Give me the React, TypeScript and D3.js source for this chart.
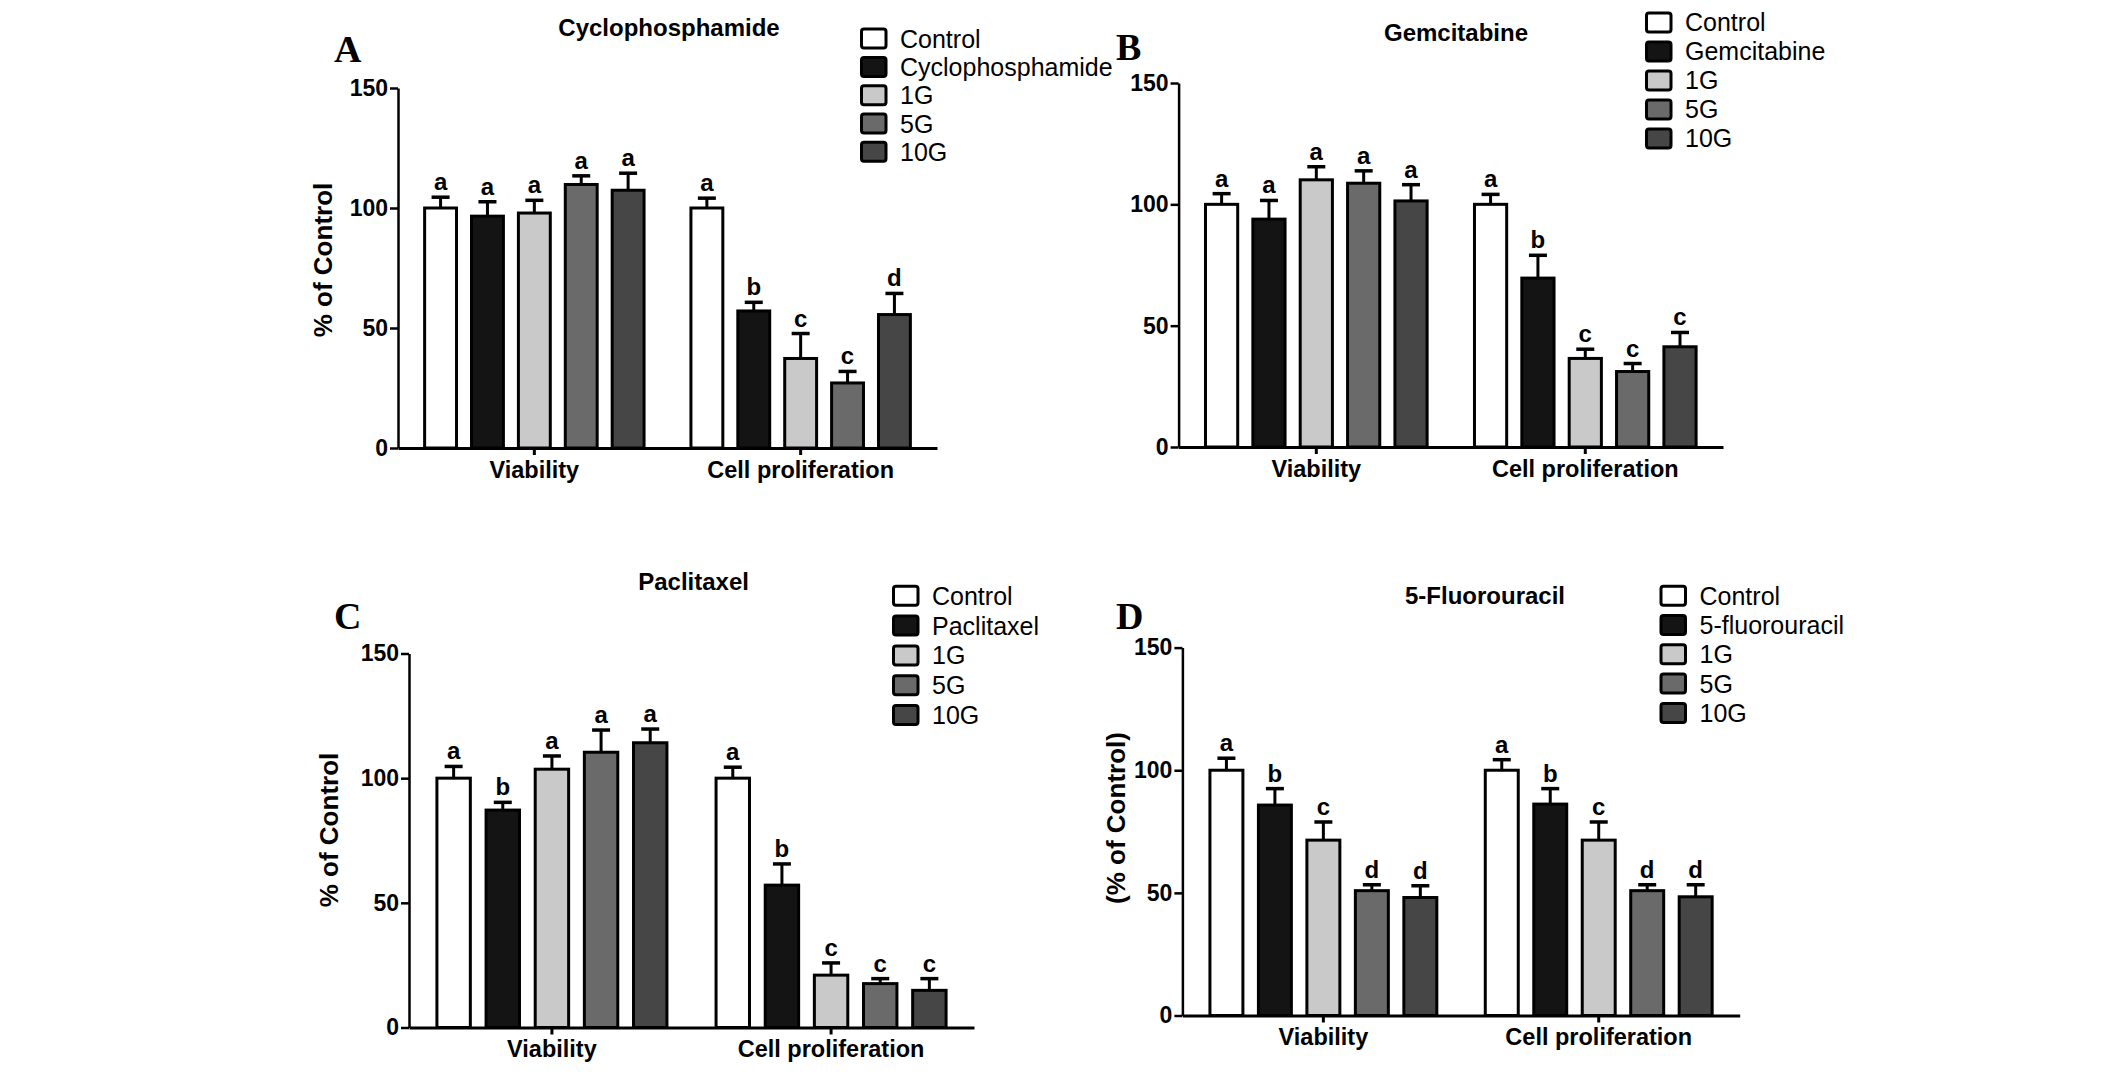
import React, { useEffect, useRef } from "react";
import * as d3 from "d3";

// categories and series
const groups = ["Viability", "Cell proliferation"];
const doseLabels = ["1G", "5G", "10G"];
const yTicks = [0, 50, 100, 150];
const fills = ["#ffffff", "#141414", "#c9c9c9", "#6a6a6a", "#464646"];

// A - Cyclophosphamide
const cycloMeans = [[100, 96.6, 97.9, 109.8, 107.4], [100, 57.1, 37.3, 27.1, 55.6]];
const cycloErrors = [[4.5, 6, 5.3, 3.6, 7.1], [4.1, 3.6, 10.4, 4.8, 8.8]];
const cycloSig = [["a", "a", "a", "a", "a"], ["a", "b", "c", "c", "d"]];

// B - Gemcitabine
const gemMeans = [[100, 93.9, 110.1, 108.7, 101.4], [100, 69.6, 36.5, 31.1, 41.3]];
const gemErrors = [[4.4, 7.7, 5.4, 5.1, 6.7], [4.1, 9.4, 3.8, 3.3, 5.9]];
const gemSig = [["a", "a", "a", "a", "a"], ["a", "b", "c", "c", "c"]];

// C - Paclitaxel
const paclMeans = [[100, 87.2, 103.6, 110.4, 114.2], [100, 57.1, 21, 17.6, 14.9]];
const paclErrors = [[4.7, 3.1, 5.3, 8.9, 5.5], [4.4, 8.5, 4.9, 2, 4.7]];
const paclSig = [["a", "b", "a", "a", "a"], ["a", "b", "c", "c", "c"]];

// D - 5-Fluorouracil
const fuMeans = [[100, 85.8, 71.5, 50.9, 48.1], [100, 86.2, 71.5, 50.9, 48.4]];
const fuErrors = [[4.9, 6.7, 7.4, 2.4, 4.8], [4.3, 6.3, 7.4, 2.4, 4.9]];
const fuSig = [["a", "b", "c", "d", "d"], ["a", "b", "c", "d", "d"]];

const SANS = "'Liberation Sans', Arial, sans-serif";
const SERIF = "'Liberation Serif', 'Times New Roman', serif";

const panels = [
  {
    letter: "A", title: "Cyclophosphamide", drug: "Cyclophosphamide", yLabel: "% of Control",
    means: cycloMeans, errors: cycloErrors, sig: cycloSig,
    layout: { x0: 398, x1: 937, y0: 448, y1: 88, tx: 669, ty: 36, lx: 334, ly: 62,
      legX: 860, legY: 38.6, legStep: 28.3, labX: 323, labY: 260 },
  },
  {
    letter: "B", title: "Gemcitabine", drug: "Gemcitabine", yLabel: "",
    means: gemMeans, errors: gemErrors, sig: gemSig,
    layout: { x0: 1178.6, x1: 1723, y0: 447, y1: 83, tx: 1456, ty: 41, lx: 1116, ly: 60,
      legX: 1645, legY: 22.4, legStep: 29, labX: 0, labY: 0 },
  },
  {
    letter: "C", title: "Paclitaxel", drug: "Paclitaxel", yLabel: "% of Control",
    means: paclMeans, errors: paclErrors, sig: paclSig,
    layout: { x0: 409, x1: 974, y0: 1027.5, y1: 653.5, tx: 693.6, ty: 590, lx: 334, ly: 629,
      legX: 892, legY: 595.8, legStep: 29.8, labX: 329, labY: 830 },
  },
  {
    letter: "D", title: "5-Fluorouracil", drug: "5-fluorouracil", yLabel: "(% of Control)",
    means: fuMeans, errors: fuErrors, sig: fuSig,
    layout: { x0: 1182.4, x1: 1739.7, y0: 1015.5, y1: 647.6, tx: 1485, ty: 603.5, lx: 1116, ly: 629,
      legX: 1659.5, legY: 595.7, legStep: 29.3, labX: 1116, labY: 818 },
  },
];

function Panel({ cfg }) {
  const gRef = useRef(null);

  useEffect(() => {
    const L = cfg.layout;
    const g = d3.select(gRef.current);
    const series = ["Control", cfg.drug, ...doseLabels];

    // scales
    const x = d3.scaleBand().domain(groups).range([L.x0, L.x1])
      .paddingInner(0.176).paddingOuter(0.1);
    const xs = d3.scaleBand().domain(d3.range(series.length)).range([0, x.bandwidth()])
      .paddingInner(0.32).paddingOuter(0);
    const y = d3.scaleLinear().domain([0, 150]).range([L.y0, L.y1]);

    // bars
    groups.forEach((grp, gi) => {
      const gg = g.append("g").attr("transform", `translate(${x(grp)},0)`);
      const rows = cfg.means[gi].map((v, i) => ({ v, i, e: cfg.errors[gi][i], s: cfg.sig[gi][i] }));

      gg.selectAll(".err")
        .data(rows)
        .enter()
        .append("line")
        .attr("x1", d => xs(d.i) + xs.bandwidth() / 2)
        .attr("x2", d => xs(d.i) + xs.bandwidth() / 2)
        .attr("y1", d => y(d.v))
        .attr("y2", d => y(d.v + d.e))
        .attr("stroke", "#000")
        .attr("stroke-width", 3);

      gg.selectAll(".cap")
        .data(rows)
        .enter()
        .append("line")
        .attr("x1", d => xs(d.i) + xs.bandwidth() / 2 - 9)
        .attr("x2", d => xs(d.i) + xs.bandwidth() / 2 + 9)
        .attr("y1", d => y(d.v + d.e))
        .attr("y2", d => y(d.v + d.e))
        .attr("stroke", "#000")
        .attr("stroke-width", 3.5);

      gg.selectAll(".bar")
        .data(rows)
        .enter()
        .append("rect")
        .attr("x", d => xs(d.i))
        .attr("y", d => y(d.v))
        .attr("width", xs.bandwidth())
        .attr("height", d => L.y0 - y(d.v))
        .attr("fill", d => fills[d.i])
        .attr("stroke", "#000")
        .attr("stroke-width", 3);

      gg.selectAll(".sig")
        .data(rows)
        .enter()
        .append("text")
        .attr("x", d => xs(d.i) + xs.bandwidth() / 2)
        .attr("y", d => y(d.v + d.e) - 7)
        .attr("text-anchor", "middle")
        .attr("font-family", SANS)
        .attr("font-weight", "bold")
        .attr("font-size", 24)
        .text(d => d.s);
    });

    // y axis
    const ya = g.append("g")
      .attr("transform", `translate(${L.x0},0)`)
      .call(d3.axisLeft(y).tickValues(yTicks).tickSize(8).tickPadding(2).tickSizeOuter(0));
    ya.attr("font-family", SANS).attr("font-size", 23).attr("font-weight", "bold");
    ya.selectAll("path, line").attr("stroke", "#000").attr("stroke-width", 2.5);

    // x axis
    const xa = g.append("g")
      .attr("transform", `translate(0,${L.y0})`)
      .call(d3.axisBottom(x).tickSize(7).tickPadding(6).tickSizeOuter(0));
    xa.attr("font-family", SANS).attr("font-size", 23.5).attr("font-weight", "bold");
    xa.selectAll("path, line").attr("stroke", "#000").attr("stroke-width", 3);

    // title
    g.append("text")
      .attr("x", L.tx)
      .attr("y", L.ty)
      .attr("text-anchor", "middle")
      .attr("font-family", SANS)
      .attr("font-weight", "bold")
      .attr("font-size", 24)
      .text(cfg.title);

    // panel letter
    g.append("text")
      .attr("x", L.lx)
      .attr("y", L.ly)
      .attr("font-family", SERIF)
      .attr("font-weight", "bold")
      .attr("font-size", 38)
      .text(cfg.letter);

    // y label
    if (cfg.yLabel) {
      g.append("text")
        .attr("transform", `translate(${L.labX},${L.labY}) rotate(-90)`)
        .attr("text-anchor", "middle")
        .attr("dominant-baseline", "central")
        .attr("font-family", SANS)
        .attr("font-weight", "bold")
        .attr("font-size", 26)
        .text(cfg.yLabel);
    }

    // legend
    const leg = g.append("g");
    series.forEach((name, i) => {
      const cy = L.legY + i * L.legStep;
      leg.append("rect")
        .attr("x", L.legX + 1.5)
        .attr("y", cy - 9.5)
        .attr("width", 24.5)
        .attr("height", 19)
        .attr("rx", 2.5)
        .attr("fill", fills[i])
        .attr("stroke", "#000")
        .attr("stroke-width", 3);
      leg.append("text")
        .attr("x", L.legX + 40)
        .attr("y", cy + 9)
        .attr("font-family", SANS)
        .attr("font-size", 25)
        .text(name);
    });

    return () => {
      g.selectAll("*").remove();
    };
  }, [cfg]);

  return <g ref={gRef}></g>;
}

export default function App() {
  return (
    <svg
      width={2126}
      height={1079}
      style={{ position: "absolute", left: 0, top: 0, background: "#fff" }}
    >
      <rect width={2126} height={1079} fill="#fff" />
      {panels.map(p => <Panel key={p.letter} cfg={p} />)}
    </svg>
  );
}
